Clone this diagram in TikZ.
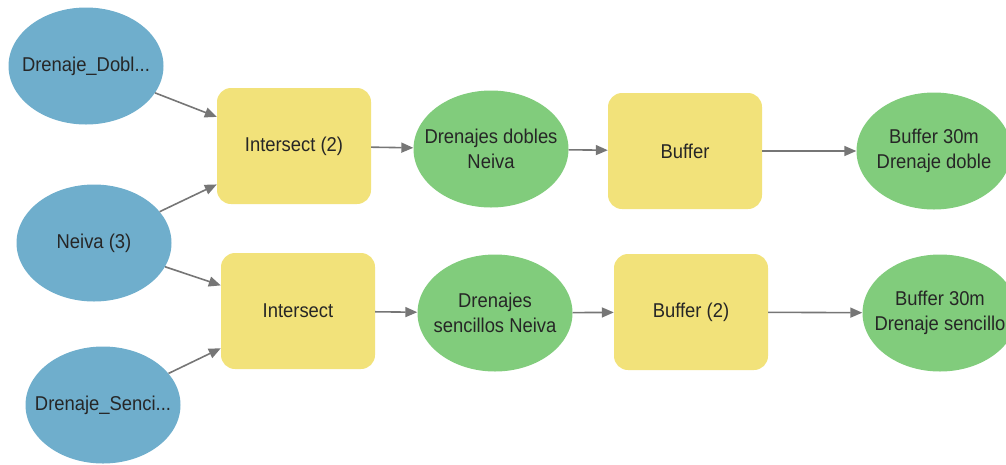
\documentclass[tikz,border=0pt]{standalone}
\usepackage{fontspec}
\setmainfont{Liberation Sans}[FakeStretch=0.92]
\usetikzlibrary{shapes.geometric,arrows.meta,calc}
\definecolor{inblue}{RGB}{111,174,204}
\definecolor{toolyellow}{RGB}{242,226,122}
\definecolor{outgreen}{RGB}{129,204,124}
\definecolor{linkgray}{RGB}{118,118,118}
\tikzset{
  data/.style={ellipse, minimum width=155pt, minimum height=117pt, inner xsep=-15pt,
    inner ysep=0pt, align=center, font=\fontsize{20}{25}\selectfont, text=black!85},
  indata/.style={data, fill=inblue},
  outdata/.style={data, fill=outgreen},
  tool/.style={rectangle, rounded corners=14pt, fill=toolyellow, minimum width=154pt,
    minimum height=116pt, inner sep=0pt, align=center,
    font=\fontsize{20}{25}\selectfont, text=black!85},
  link/.style={draw=linkgray, line width=1.6pt, -{Triangle[length=12pt,width=10pt]}}
}
\begin{document}
\begin{tikzpicture}[x=1pt,y=-1pt]
\useasboundingbox (0,0) rectangle (1006,464);
\clip (0,0) rectangle (1006,464);

% inputs
\node[indata] (dob) at (86,66) {Drenaje\_Dobl...};
\node[indata] (nei) at (94,243) {Neiva (3)};
\node[indata] (sen) at (103,405) {Drenaje\_Senci...};

% tools
\node[tool] (int2) at (294,146) {Intersect (2)};
\node[tool] (int) at (298,311) {Intersect};
\node[tool] (buf) at (685,151) {Buffer};
\node[tool] (buf2) at (691,312) {Buffer (2)};

% outputs
\node[outdata] (dd) at (491,149) {Drenajes dobles\\Neiva};
\node[outdata] (ds) at (495,313) {Drenajes\\sencillos Neiva};
\node[outdata] (od) at (934,151) {Buffer 30m\\Drenaje doble};
\node[outdata] (os) at (940,313) {Buffer 30m\\Drenaje sencillo};

% connectors
\draw[link] (dob) -- ($(int2.north west)!0.25!(int2.south west)$);
\draw[link] (nei) -- ($(int2.north west)!0.83!(int2.south west)$);
\draw[link] (nei) -- ($(int.north west)!0.28!(int.south west)$);
\draw[link] (sen) -- ($(int.north west)!0.82!(int.south west)$);
\draw[link] (int2) -- (dd);
\draw[link] (dd) -- (buf);
\draw[link] (buf) -- (od);
\draw[link] (int) -- (ds);
\draw[link] (ds) -- (buf2);
\draw[link] (buf2) -- (os);
\end{tikzpicture}
\end{document}
